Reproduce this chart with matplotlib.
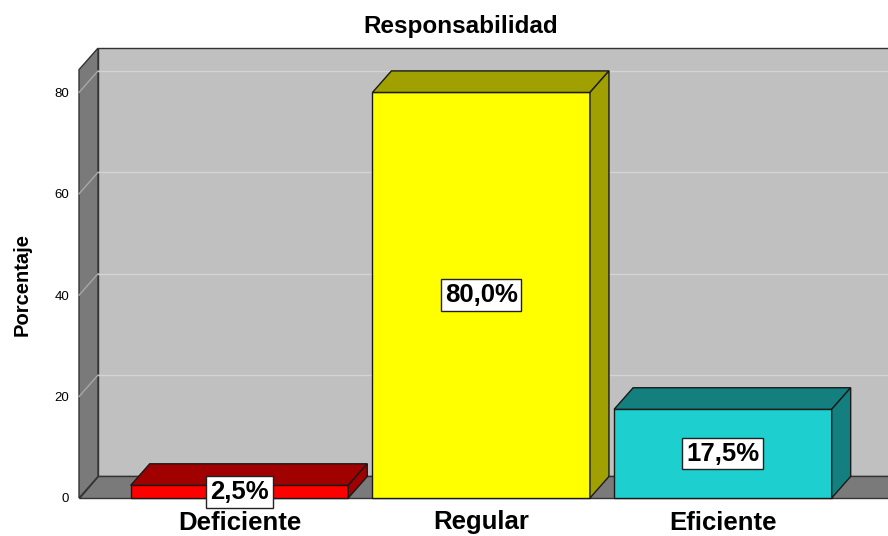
import matplotlib.pyplot as plt
from matplotlib.patches import Polygon

categorias = ['Deficiente', 'Regular', 'Eficiente']
porcentajes = [2.5, 80.0, 17.5]
etiquetas = ['2,5%', '80,0%', '17,5%']
yticks = [0, 20, 40, 60, 80]

frente = ['#FF0000', '#FFFF00', '#1DCFCF']
lado = ['#A00000', '#A0A000', '#137F7F']

plt.rcParams['font.family'] = ['Liberation Sans', 'DejaVu Sans']

fig = plt.figure(figsize=(8.88, 5.36), dpi=100)
ax = fig.add_axes([79 / 888, 38 / 536, 809 / 888, 450 / 536])

x0, x1 = -0.664, 2.70
dx, dy = 0.0786, 4.25
ytop = 84.5
ancho = 0.9

ax.set_xlim(x0, 2.683)
ax.set_ylim(0, ytop + dy + 0.02)

borde = '#333333'
# pared del fondo
ax.add_patch(Polygon([(x0 + dx, dy), (x1, dy), (x1, ytop + dy), (x0 + dx, ytop + dy)],
                     closed=True, fc='#C0C0C0', ec=borde, lw=1, clip_on=False, zorder=1))
# pared izquierda
ax.add_patch(Polygon([(x0, 0), (x0 + dx, dy), (x0 + dx, ytop + dy), (x0, ytop)],
                     closed=True, fc='#7A7A7A', ec=borde, lw=1, clip_on=False, zorder=1))
# piso
ax.add_patch(Polygon([(x0, 0), (x1, 0), (x1, dy), (x0 + dx, dy)],
                     closed=True, fc='#7A7A7A', ec=borde, lw=1, clip_on=False, zorder=1))

# lineas de cuadricula
for t in yticks[1:]:
    ax.plot([x0 + dx, x1], [t + dy, t + dy], color='#D4D4D4', lw=1, zorder=2, clip_on=False)
    ax.plot([x0, x0 + dx], [t, t + dy], color='#A8A8A8', lw=1, zorder=2, clip_on=False)

for i, v in enumerate(porcentajes):
    l = i - ancho / 2
    r = i + ancho / 2
    ax.add_patch(Polygon([(l, 0), (r, 0), (r, v), (l, v)], closed=True,
                         fc=frente[i], ec='#1A1A1A', lw=1, zorder=3, clip_on=False))
    ax.add_patch(Polygon([(l, v), (r, v), (r + dx, v + dy), (l + dx, v + dy)], closed=True,
                         fc=lado[i], ec='#1A1A1A', lw=1, zorder=3, clip_on=False))
    ax.add_patch(Polygon([(r, 0), (r + dx, dy), (r + dx, v + dy), (r, v)], closed=True,
                         fc=lado[i], ec='#1A1A1A', lw=1, zorder=3, clip_on=False))
    ax.text(i, v / 2, etiquetas[i], ha='center', va='center', fontsize=18.5,
            fontweight='bold', zorder=5,
            bbox=dict(boxstyle='square,pad=0.15', fc='white', ec='#222222', lw=1))

ax.set_xticks(range(len(categorias)))
ax.set_xticklabels(categorias, fontsize=18.5, fontweight='bold')
ax.set_yticks(yticks)
ax.set_yticklabels([str(t) for t in yticks], fontsize=9.5)
ax.tick_params(axis='x', length=0, pad=9)
ax.tick_params(axis='y', length=0, pad=7)
for s in ax.spines.values():
    s.set_visible(False)
ax.patch.set_visible(False)

ax.set_ylabel('Porcentaje', fontsize=14.5, fontweight='bold', va='center')
ax.yaxis.set_label_coords(-57 / 809, 213 / 450)
fig.text(461 / 888, 1 - 27 / 536, 'Responsabilidad', ha='center', va='center',
         fontsize=17.5, fontweight='bold')

fig.savefig('out.png', dpi=100, facecolor='white')
